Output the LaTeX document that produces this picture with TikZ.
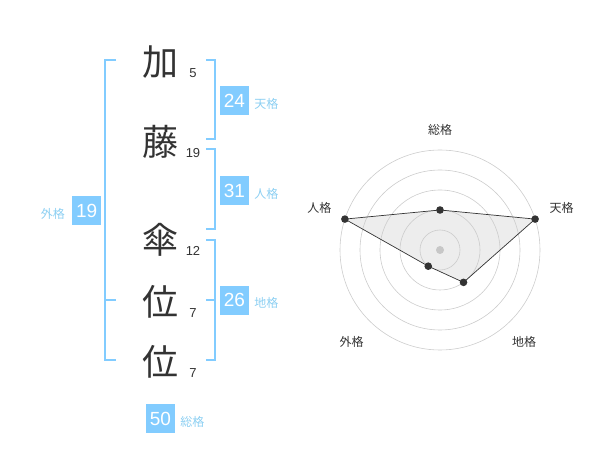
\documentclass[tikz,border=0pt]{standalone}
\usepackage{fontspec}
\setmainfont{Noto Sans CJK JP}
\newfontfamily\latin{Liberation Sans}
\usetikzlibrary{positioning}
\definecolor{kaku}{HTML}{82CCFF}
\definecolor{kakutext}{HTML}{8CCFF2}
\definecolor{ink}{HTML}{333333}
\begin{document}
\begin{tikzpicture}[x=1pt,y=-1pt,
    moji/.style={text=ink,font=\fontsize{36}{36}\selectfont,inner sep=0pt},
    kazu/.style={text=ink,font=\latin\fontsize{13}{13}\selectfont,inner sep=0pt},
    badge/.style={fill=kaku,text=white,minimum size=29pt,inner sep=0pt,font=\latin\fontsize{19}{19}\selectfont},
    kname/.style={text=kakutext,font=\fontsize{12}{12}\selectfont,inner sep=0pt,yshift=-3pt},
    bracket/.style={draw=kaku,line width=2pt},
    ring/.style={draw=black!20,line width=0.6pt},
    axis/.style={text=ink,font=\fontsize{12}{12}\selectfont,inner sep=0pt}]
  \useasboundingbox (0,0) rectangle (600,470);
  % name
  \foreach \ch/\y/\n [count=\i] in {加/62/5,藤/142/19,傘/240/12,位/302/7,位/362/7}{
    \node[moji] (c\i) at (160,\y) {\ch};
    \node[kazu] (n\i) at (193,\y+11) {\n};
  }
  % brackets
  \draw[bracket] (116,60) -| (105,360) -- (116,360);
  \draw[bracket] (105,300) -- (116,300);
  \draw[bracket] (206,60) -| (215,139) -- (206,139);
  \draw[bracket] (206,149) -| (215,229) -- (206,229);
  \draw[bracket] (206,240) -| (215,360) -- (206,360);
  \draw[bracket] (206,300) -- (215,300);
  % scores
  \node[badge] (ten) at (234.5,100.5) {24};
  \node[kname,right=5pt of ten] (tenl) {天格};
  \node[badge] (jin) at (234.5,190.5) {31};
  \node[kname,right=5pt of jin] (jinl) {人格};
  \node[badge] (chi) at (234.5,300.3) {26};
  \node[kname,right=5pt of chi] (chil) {地格};
  \node[badge] (gai) at (86.7,210.5) {19};
  \node[kname,left=7pt of gai] (gail) {外格};
  \node[badge] (sou) at (160.5,418.8) {50};
  \node[kname,right=5pt of sou] (soul) {総格};
  % radar
  \begin{scope}[shift={(440,250)},y=1pt]
    \coordinate (rsou) at (90:40pt);
    \coordinate (rten) at (18:100pt);
    \coordinate (rchi) at (-54:40pt);
    \coordinate (rgai) at (-126:20pt);
    \coordinate (rjin) at (162:100pt);
    \fill[black!7] (rsou) -- (rten) -- (rchi) -- (rgai) -- (rjin) -- cycle;
    \foreach \r in {20,40,60,80,100}
      \draw[ring] (0,0) circle (\r pt);
    \fill[black!22] (0,0) circle (4pt);
    \draw[ink,line width=0.7pt] (rsou) -- (rten) -- (rchi) -- (rgai) -- (rjin) -- cycle;
    \foreach \p in {rsou,rten,rchi,rgai,rjin}
      \fill[ink] (\p) circle (3.8pt);
    \node[axis] (asou) at (0,120) {総格};
    \node[axis] (aten) at (121.7,41.7) {天格};
    \node[axis] (ajin) at (-120.7,41.7) {人格};
    \node[axis] (agai) at (-88.3,-91.7) {外格};
    \node[axis] (achi) at (84,-91.7) {地格};
  \end{scope}
\end{tikzpicture}
\end{document}
